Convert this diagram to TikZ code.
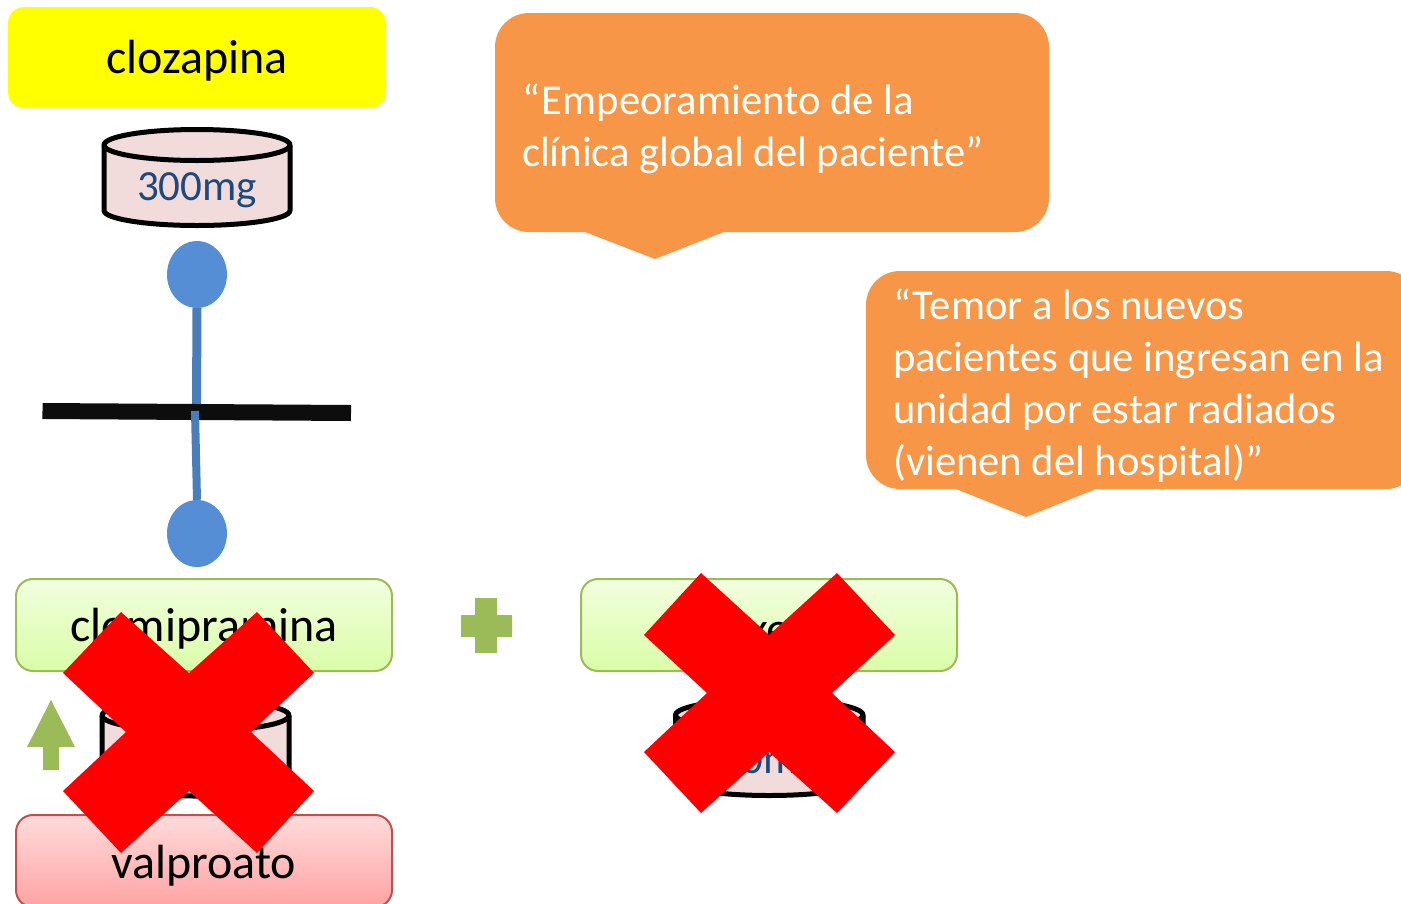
\documentclass[tikz,border=0pt]{standalone}
\usepackage{fontspec}
\setmainfont{Carlito}
\definecolor{bluedot}{HTML}{558ED5}
\definecolor{blueline}{HTML}{4A7EBB}
\definecolor{orangeb}{HTML}{F79646}
\definecolor{greenb}{HTML}{9BBB59}
\definecolor{greentop}{HTML}{F2FEDF}
\definecolor{greenmid}{HTML}{EBFDCE}
\definecolor{greenbot}{HTML}{DAFDA7}
\definecolor{redb}{HTML}{C0504D}
\definecolor{redtop}{HTML}{FFDBDB}
\definecolor{redmid}{HTML}{FFC7C7}
\definecolor{redbot}{HTML}{FFA3A3}
\definecolor{pill}{HTML}{F2DCDB}
\definecolor{dose}{HTML}{1F497D}
\definecolor{bar}{HTML}{0D0D0D}
\definecolor{yellowb}{HTML}{FFFF00}
\definecolor{crossred}{HTML}{FF0000}
\tikzset{
  drugbox/.style={rounded corners=17pt,minimum width=376pt,minimum height=92pt,inner sep=0pt,line width=2pt},
  greenbox/.style={drugbox,draw=greenb,top color=greentop,middle color=greenmid,bottom color=greenbot},
  redbox/.style={drugbox,draw=redb,top color=redtop,middle color=redmid,bottom color=redbot},
  drugtext/.style={font=\fontsize{48}{56}\selectfont,text=black,inner sep=0pt},
  dosetext/.style={font=\fontsize{43}{50}\selectfont,text=dose,inner sep=0pt},
  dot/.style={ellipse,fill=bluedot,minimum width=60pt,minimum height=67pt,inner sep=0pt},
  stem/.style={draw=blueline,line width=8.5pt},
  pillshape/.style={fill=pill,draw=black,line width=5pt,line join=round},
  bubble/.style={fill=orangeb},
  bubbletext/.style={font=\fontsize{42.6}{52}\selectfont,text=white,align=left,anchor=west,inner sep=0pt},
  cross/.style={fill=crossred},
  sign/.style={fill=greenb}
}
\usetikzlibrary{shapes.geometric}
\newcommand{\pillat}[3]{% left x, right x, top y
  \path[pillshape] (#1,#3+15.5) -- (#1,#3+81) arc[start angle=180,end angle=0,x radius={(#2-#1)/2},y radius=15] -- (#2,#3+15.5) arc[start angle=0,end angle=-180,x radius={(#2-#1)/2},y radius=15.5] -- cycle;
  \draw[line width=5pt,black] (#1,#3+15.5) arc[start angle=180,end angle=0,x radius={(#2-#1)/2},y radius=15.5];
}
\begin{document}
\begin{tikzpicture}[x=1pt,y=-1pt]
\clip (0,0) rectangle (1401,903);
\fill[white] (0,0) rectangle (1401,903);

% clozapina
\node[rounded corners=16pt,fill=yellowb,minimum width=378pt,minimum height=101pt,inner sep=0pt] (cloza) at (197,57.5) {};
\node[drugtext] (clozat) at (197,61) {clozapina};

% 300 mg
\pillat{104}{290}{129.5}
\node[dosetext] (dose1) at (197,190) {300mg};

% synapse
\coordinate (barL) at (42.5,411);
\coordinate (barR) at (351,413);
\node[dot] (dotA) at (197,274.5) {};
\node[dot] (dotB) at (197,533.5) {};
\coordinate (stemA) at (196.5,406);
\coordinate (stemB) at (195,411);
\draw[stem,line width=9pt] (dotA.south) -- (stemA);
\draw[bar,line width=16pt] (barL) -- (barR);
\draw[stem,line width=8pt] (stemB) -- (dotB.north);

% drug boxes
\node[greenbox] (clomi) at (204,625) {};
\node[drugtext] (clomit) at (204,629) {clomipramina};
\node[greenbox] (fluox) at (769,625) {};
\node[drugtext] (fluoxt) at (769,629) {fluoxetina};
\node[redbox] (valp) at (204,861) {};
\pillat{102}{289}{700}
\pillat{675.5}{863}{699.5}
\node[dosetext] (dose3) at (769,763) {20mg};
\node[drugtext] (valpt) at (203.5,866) {valproato};

% plus and arrow
\path[sign] (475,598) -- (497,598) -- (497,615) -- (512,615) -- (512,637) -- (497,637) -- (497,653) -- (475,653) -- (475,637) -- (461,637) -- (461,615) -- (475,615) -- cycle;
\path[sign] (51,700) -- (75,747) -- (59,747) -- (59,770) -- (43,770) -- (43,747) -- (27,747) -- cycle;

% bubbles
\fill[bubble,rounded corners=34pt] (495,13) rectangle (1049,232);
\fill[bubble] (582.5,231) -- (655,259) -- (726.5,231) -- cycle;
\node[bubbletext] (quote1) at (522,129) {“\kern2pt Empeoramiento de la\\clínica global del paciente”};
\fill[bubble,rounded corners=34pt] (866,271) rectangle (1420,489);
\fill[bubble] (953.5,488) -- (1026,517) -- (1098.5,488) -- cycle;
\node[bubbletext] (quote2) at (893,386) {“Temor a los nuevos\\pacientes que ingresan en la\\unidad por estar radiados\\(vienen del hospital)”};

% crosses
\path[cross] (63,673) -- (121,612) -- (189,673) -- (257,612) -- (314,673) -- (251,732) -- (314,791) -- (257,853) -- (189,791) -- (121,853) -- (63,791) -- (126,732) -- cycle;
\path[cross] (644,635) -- (701,573) -- (769,635) -- (837,573) -- (895,635) -- (832,693) -- (895,752) -- (837,813) -- (769,752) -- (701,813) -- (644,752) -- (707,693) -- cycle;
\end{tikzpicture}
\end{document}
